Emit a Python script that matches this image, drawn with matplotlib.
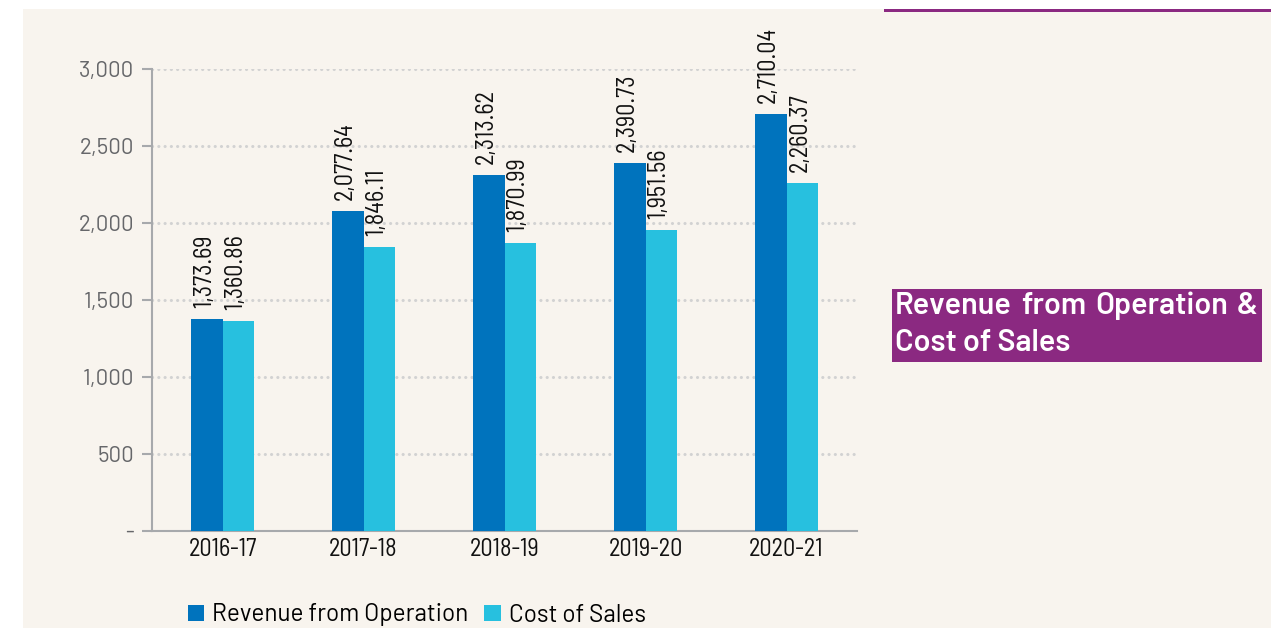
import numpy as np
import matplotlib
matplotlib.use("Agg")
import matplotlib.pyplot as plt
from matplotlib.patches import Rectangle
from matplotlib.ticker import FuncFormatter

years = ["2016-17", "2017-18", "2018-19", "2019-20", "2020-21"]
revenue = [1373.69, 2077.64, 2313.62, 2390.73, 2710.04]
cost = [1360.86, 1846.11, 1870.99, 1951.56, 2260.37]
series_names = ["Revenue from Operation", "Cost of Sales"]
title_lines = ["Revenue from Operation &", "Cost of Sales"]

dark_blue = "#0073BD"
light_blue = "#27C0DF"
cream = "#F8F4EE"
purple = "#8B2981"
narrow = ["Barlow Semi Condensed", "DejaVu Sans"]
regular = ["Barlow", "DejaVu Sans"]

W, H = 1277, 628
fig = plt.figure(figsize=(W / 100, H / 100), dpi=100, facecolor="white")

# cream panel and purple rule on top right
fig.patches.append(Rectangle((23 / W, 0), 1248 / W, 619 / H, transform=fig.transFigure,
                             facecolor=cream, edgecolor="none", zorder=-5))
fig.patches.append(Rectangle((884 / W, 1 - 11.5 / H), 387 / W, 2.5 / H, transform=fig.transFigure,
                             facecolor=purple, edgecolor="none", zorder=1))

ax = fig.add_axes([152 / W, 97 / H, 705 / W, 462 / H])
ax.set_facecolor("none")

x = np.arange(len(years))
w = 0.224
b1 = ax.bar(x - w / 2, revenue, w, color=dark_blue, label=series_names[0], zorder=3)
b2 = ax.bar(x + w / 2, cost, w, color=light_blue, label=series_names[1], zorder=3)

for bars, vals in ((b1, revenue), (b2, cost)):
    for r, v in zip(bars, vals):
        ax.annotate(f"{v:,.2f}", (r.get_x() + r.get_width() / 2, r.get_height()),
                    xytext=(-1.5, 8), textcoords="offset points", rotation=90,
                    ha="center", va="bottom", fontsize=17.5, family=narrow,
                    color="#111111", annotation_clip=False, clip_on=False)

ax.set_xlim(-0.5, 4.5)
ax.set_ylim(0, 3000)
ax.set_yticks(np.arange(0, 3001, 500))
ax.yaxis.set_major_formatter(FuncFormatter(lambda v, p: "-" if v == 0 else f"{v:,.0f}"))
ax.set_xticks(x)
ax.set_xticklabels(years, family=narrow, fontsize=17.5, color="#111111")
for t in ax.get_yticklabels():
    t.set_family(regular)
    t.set_fontsize(16)
    t.set_color("#66676A")

ax.tick_params(axis="y", length=7, width=1.5, color="#A7A9AC", pad=6)
ax.tick_params(axis="x", length=0, pad=5)
for s in ("top", "right"):
    ax.spines[s].set_visible(False)
for s in ("left", "bottom"):
    ax.spines[s].set_color("#A7A9AC")
    ax.spines[s].set_linewidth(1.5)

ax.yaxis.grid(True, color="#D2D2D2", linewidth=2.2, linestyle=(0, (0.05, 2.0)),
              dash_capstyle="round", zorder=0)
ax.get_ygridlines()[0].set_visible(False)

fig.legend(handles=[b1, b2], labels=series_names, loc="center left",
           bbox_to_anchor=(188 / W, 1 - 615 / H), ncol=2, frameon=False,
           prop={"family": regular, "size": 17.5}, handlelength=0.67, handleheight=0.67,
           handletextpad=0.33, columnspacing=0.65, borderpad=0, borderaxespad=0)

# title box
fig.patches.append(Rectangle((892 / W, 1 - 362 / H), 370 / W, 73 / H, transform=fig.transFigure,
                             facecolor=purple, edgecolor="none", zorder=2))
tstyle = dict(color="white", fontsize=22, family=regular, weight="semibold",
              va="center", ha="left", zorder=3)

# first line is justified across the box
words = title_lines[0].split()
renderer = fig.canvas.get_renderer()
objs = [fig.text(0, 1 - 306 / H, wd, **tstyle) for wd in words]
widths = [o.get_window_extent(renderer).width for o in objs]
x0, x1 = 895, 1258
gap = (x1 - x0 - sum(widths)) / (len(words) - 1)
pos = x0
for o, wd in zip(objs, widths):
    o.set_x(pos / W)
    pos += wd + gap
fig.text(x0 / W, 1 - 343 / H, title_lines[1], **tstyle)

fig.savefig("out.png", dpi=100, facecolor="white")
